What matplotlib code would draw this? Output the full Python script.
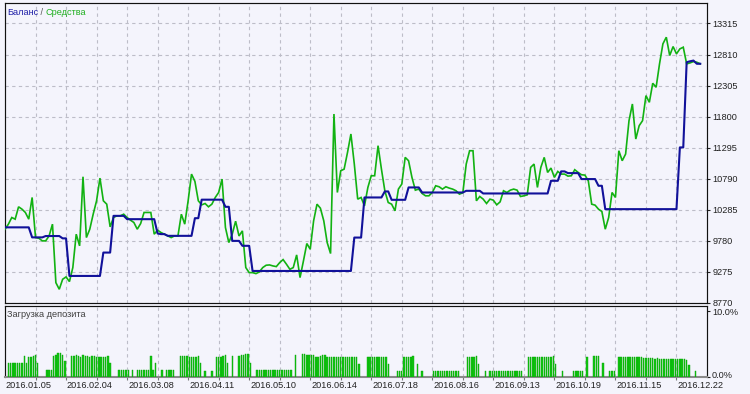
import numpy as np
import matplotlib
matplotlib.use("Agg")
import matplotlib.pyplot as plt
from matplotlib.transforms import blended_transform_factory, offset_copy

# ---------------- data ----------------
equity = [
    9970, 10052, 10160, 10133, 10334, 10296, 10242, 10133, 10486, 9834,
    9823, 9780, 9780, 9861, 10052, 9101, 8993, 9156, 9194, 9118,
    9346, 9889, 9699, 10823, 9834, 9970, 10214, 10432, 10801, 10432,
    10377, 10008, 10160, 10187, 10187, 10214, 10160, 10117, 10079, 9970,
    10062, 10242, 10242, 10242, 9889, 9954, 9916, 9889, 9861, 9834,
    9861, 9861, 10214, 10052, 10432, 10866, 10747, 10432, 10366, 10388,
    10334, 10377, 10486, 10567, 10785, 9997, 9753, 9889, 10100, 9860,
    9943, 9346, 9264, 9264, 9248, 9275, 9346, 9384, 9389, 9373,
    9362, 9427, 9476, 9400, 9318, 9346, 9552, 9183, 9454, 9737,
    9644, 10106, 10377, 10312, 10106, 9753, 9574, 11843, 10567, 10920,
    10947, 11219, 11518, 11029, 10459, 10486, 10350, 10649, 10839, 10839,
    11328, 10947, 10595, 10404, 10377, 10269, 10622, 10703, 11138, 11083,
    10812, 10605, 10622, 10551, 10513, 10513, 10567, 10676, 10660, 10622,
    10660, 10638, 10622, 10595, 10540, 10562, 11029, 11246, 11246, 10432,
    10502, 10459, 10388, 10459, 10442, 10366, 10415, 10595, 10567, 10605,
    10622, 10605, 10502, 10513, 10529, 10975, 11029, 10649, 10975, 11138,
    10893, 10964, 10812, 10909, 10866, 10866, 10833, 10839, 10937, 10893,
    10855, 10850, 10757, 10377, 10361, 10296, 10258, 9970, 10160, 10567,
    10486, 11246, 11083, 11192, 11735, 12006, 11436, 11653, 11735, 12142,
    12033, 12343, 12278, 12658, 12984, 13092, 12794, 12940, 12821, 12902,
    12929, 12658, 12674, 12696, 12685, 12658,
]

balance = [
    10000, 10000, 10000, 10000, 10000, 10000, 10000, 10000, 9837, 9837,
    9837, 9837, 9859, 9859, 9859, 9859, 9859, 9821, 9821, 9210,
    9210, 9210, 9210, 9210, 9210, 9210, 9210, 9210, 9210, 9590,
    9590, 9590, 10187, 10187, 10187, 10187, 10133, 10133, 10133, 10133,
    10133, 10133, 10133, 10133, 10133, 9900, 9890, 9890, 9862, 9862,
    9862, 9862, 9862, 9862, 9862, 9862, 10149, 10149, 10450, 10450,
    10450, 10450, 10450, 10450, 10450, 10334, 10334, 9780, 9780, 9780,
    9700, 9700, 9700, 9291, 9291, 9291, 9291, 9291, 9291, 9291,
    9291, 9291, 9291, 9291, 9291, 9291, 9291, 9291, 9291, 9291,
    9291, 9291, 9291, 9291, 9291, 9291, 9291, 9291, 9291, 9291,
    9291, 9291, 9291, 9834, 9834, 9834, 10486, 10486, 10486, 10486,
    10486, 10486, 10584, 10584, 10448, 10448, 10448, 10448, 10448, 10649,
    10649, 10649, 10649, 10567, 10567, 10567, 10567, 10567, 10567, 10567,
    10567, 10567, 10567, 10567, 10567, 10567, 10594, 10594, 10594, 10594,
    10594, 10551, 10551, 10551, 10551, 10551, 10551, 10551, 10551, 10551,
    10551, 10551, 10551, 10551, 10551, 10551, 10551, 10551, 10551, 10551,
    10551, 10757, 10757, 10757, 10910, 10910, 10882, 10882, 10882, 10882,
    10785, 10785, 10785, 10785, 10785, 10676, 10676, 10296, 10296, 10296,
    10296, 10296, 10296, 10296, 10296, 10296, 10296, 10296, 10296, 10296,
    10296, 10296, 10296, 10296, 10296, 10296, 10296, 10296, 10296, 11300,
    11300, 12685, 12700, 12712, 12660, 12660,
]

deposit_load = [
    0, 2.1, 2.1, 2.1, 2.1, 2.1, 2.1, 2.1, 3.2, 2.1,
    3.1, 3.1, 3.2, 3.4, 2.1, 0, 0, 0, 1.1, 1.1,
    1.1, 3.2, 3.4, 3.6, 3.6, 3.4, 2.4, 0, 0, 3.2,
    3.2, 3.3, 3.2, 3.1, 3.4, 3.2, 3.2, 3.1, 3.2, 3.2,
    3.1, 3.1, 3.1, 3.0, 3.1, 3.2, 2.1, 0, 0, 0,
    1.1, 1.1, 1.1, 1.1, 1.1, 0, 1.1, 0, 1.1, 1.1,
    1.1, 1.1, 1.1, 1.1, 3.2, 1.1, 2.1, 0, 0, 1.1,
    0, 1.1, 1.1, 1.1, 1.1, 0, 0, 3.2, 3.2, 3.2,
    3.2, 3.1, 3.1, 3.1, 3.1, 3.2, 2.1, 0, 0.95, 0,
    0, 0.95, 0, 3.1, 3.1, 3.1, 3.2, 3.4, 2.1, 0,
    3.2, 0, 0, 3.2, 3.3, 3.4, 3.5, 3.5, 2.1, 0,
    0, 1.1, 1.1, 1.1, 1.1, 1.1, 1.1, 1.1, 1.1, 1.1,
    1.1, 1.1, 1.1, 1.1, 1.1, 1.1, 1.1, 0, 3.4, 0,
    0, 3.5, 3.5, 3.4, 3.4, 3.3, 3.4, 3.1, 3.1, 3.2,
    3.3, 3.3, 3.1, 3.1, 3.0, 3.1, 3.1, 3.0, 3.1, 3.0,
    3.0, 3.1, 3.0, 3.1, 3.0, 3.1, 2.0, 0, 0, 0,
    3.0, 3.0, 3.0, 3.1, 3.0, 3.0, 3.0, 3.1, 3.0, 2.0,
    0, 0, 0, 0.96, 0.96, 0.96, 3.0, 3.0, 3.0, 3.0,
    3.2, 0, 2.0, 0, 0.96, 0, 0, 0, 0, 0.96,
    0.96, 0.96, 0.96, 0.96, 0.96, 0.96, 0.96, 0.96, 0.96, 0.96,
    0.96, 0, 0, 0, 3.0, 3.0, 3.0, 3.1, 3.2, 2.0,
    0, 0, 0.96, 0, 0.96, 0.96, 0.96, 0.96, 0.96, 0.96,
    0.96, 0.96, 0.96, 0.96, 0.96, 0.96, 0.96, 0.96, 0.96, 0,
    0, 3.0, 3.0, 3.0, 3.1, 3.1, 3.0, 3.1, 3.0, 3.0,
    3.0, 3.1, 3.2, 2.0, 0, 0, 0.96, 0, 0, 0,
    0, 0.96, 0.96, 0.96, 0.96, 0.96, 0, 3.1, 0, 0,
    3.2, 3.2, 3.2, 0, 2.1, 0, 0, 0.96, 0.96, 0.96,
    0, 3.0, 3.0, 3.0, 3.0, 3.0, 3.0, 3.0, 3.0, 3.0,
    3.0, 3.0, 2.9, 2.9, 2.9, 2.9, 2.9, 2.8, 2.9, 2.8,
    2.8, 2.8, 2.8, 2.8, 2.7, 2.7, 2.8, 2.8, 2.7, 2.8,
    2.8, 2.6, 1.8, 0, 0, 0.86,
]

y_ticks = [8770, 9275, 9780, 10285, 10790, 11295, 11800, 12305, 12810, 13315]
date_labels = ['2016.01.05', '2016.02.04', '2016.03.08', '2016.04.11',
               '2016.05.10', '2016.06.14', '2016.07.18', '2016.08.16',
               '2016.09.13', '2016.10.19', '2016.11.15', '2016.12.22']
load_ticks = [0, 10]
load_tick_labels = ['0.0%', '10.0%']

# ---------------- style ----------------
BG = '#F4F4FC'
GRID = '#BDBDC8'
BAL = '#11119A'
EQ = '#12B212'
BAR = '#10C810'
FONT = 'Liberation Sans'
FS = 6.6
SPINE_W = 0.85

W, H = 750, 394
fig = plt.figure(figsize=(W / 100, H / 100), dpi=100, facecolor=BG)

n_div = 23
main_steps = 9          # samples per grid division (main chart)
bar_steps = 13.5        # bar slots per grid division

ax = fig.add_axes([5 / W, 91 / H, 702 / W, 300 / H], facecolor=BG)
ax2 = fig.add_axes([5 / W, 17 / H, 702 / W, 71.5 / H], facecolor=BG)

# main chart
x = np.arange(len(equity))
ax.plot(x, equity, color=EQ, lw=1.2, zorder=3, solid_joinstyle='miter')
ax.plot(np.arange(len(balance)), balance, color=BAL, lw=1.5, zorder=4)
ax.set_xlim(0, n_div * main_steps)
ax.set_ylim(8770, 13648)
ax.set_yticks(y_ticks)
ax.set_yticklabels([str(v) for v in y_ticks])
ax.set_xticks([main_steps * k for k in range(1, n_div)])
ax.set_xticklabels([])
ax.grid(True, color=GRID, lw=0.8, ls=(0, (3, 3)))
ax.set_axisbelow(True)
ax.tick_params(axis='y', left=False, right=True, labelleft=False, labelright=True,
               length=2.5, width=0.8, pad=1.5, labelsize=FS, colors='#222222')
ax.tick_params(axis='x', bottom=False, top=False, length=0)
for lab in ax.get_yticklabels():
    lab.set_fontfamily(FONT)
# bottom label sits just above the panel edge
ax.get_yticklabels()[0].set_verticalalignment('center_baseline')
for s in ax.spines.values():
    s.set_color('#111111')
    s.set_linewidth(SPINE_W)

t1 = ax.text(2 / 702, 1 - 9 / 300, 'Баланс', transform=ax.transAxes, color='#2020A8',
             fontsize=FS, family=FONT, va='center', ha='left')
t2 = ax.annotate(' / ', xy=(1, 0.5), xycoords=t1, color='#555555', fontsize=FS,
                 family=FONT, va='center', ha='left')
t3 = ax.annotate('Средства', xy=(1, 0.5), xycoords=t2, color='#20B020', fontsize=FS,
                 family=FONT, va='center', ha='left')

# deposit load panel
load = np.array(deposit_load, dtype=float)
idx = np.nonzero(load)[0]
ax2.bar(idx + 0.5, load[idx], width=0.62, color=BAR, edgecolor='#07A007',
        linewidth=0.3, zorder=3)
ax2.set_xlim(0, n_div * bar_steps)
ax2.set_ylim(0, 10.83)
ax2.set_xticks([bar_steps * k for k in range(1, n_div)])
ax2.set_xticklabels([])
ax2.grid(True, axis='x', color=GRID, lw=0.8, ls=(0, (3, 3)))
ax2.set_axisbelow(True)
ax2.set_yticks(load_ticks)
ax2.set_yticklabels([])
ax2.tick_params(axis='y', left=False, right=True, labelleft=False, labelright=False,
                length=2.5, width=0.8, colors='#222222')
ax2.tick_params(axis='x', bottom=True, length=2.5, width=0.8, colors='#777777')
for name, s in ax2.spines.items():
    s.set_color('#111111')
    s.set_linewidth(SPINE_W)
ax2.spines['bottom'].set_color('#8A8A8A')
ax2.spines['bottom'].set_linewidth(1.5)

# percent labels on the right of the load panel
ytrans = blended_transform_factory(ax2.transAxes, ax2.transData)
for val, lab in zip(load_ticks, load_tick_labels):
    tr = offset_copy(ytrans, fig=fig, x=5, y=(2 if val == 0 else -2), units='dots')
    ax2.text(1.0, val, lab, transform=tr, fontsize=FS, family=FONT, color='#222222',
             va='center', ha='left', clip_on=False)

ax2.text(2 / 702, 1 - 9 / 72, 'Загрузка депозита', transform=ax2.transAxes,
         color='#404040', fontsize=FS, family=FONT, va='center', ha='left')

trans = blended_transform_factory(ax2.transData, ax2.transAxes)
for k, lab in enumerate(date_labels):
    ax2.text(bar_steps * 2 * k + 0.4, -9 / 72, lab, transform=trans, fontsize=FS,
             family=FONT, color='#222222', va='center', ha='left', clip_on=False)

fig.savefig('out.png', dpi=100, facecolor=BG)
